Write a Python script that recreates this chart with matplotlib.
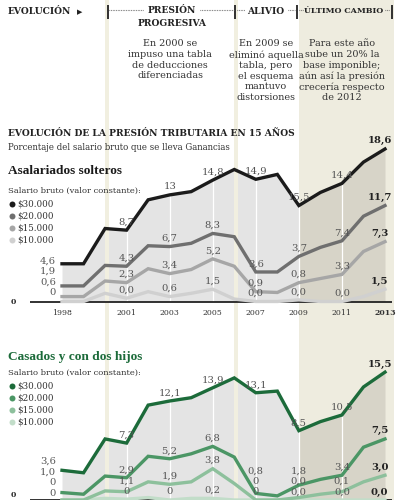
import matplotlib
matplotlib.use('Agg')
import matplotlib.pyplot as plt

# ---------------- data ----------------
years = list(range(1998, 2014))
tick_years = [1998, 2001, 2003, 2005, 2007, 2009, 2011, 2013]
label_years = [1998, 2001, 2003, 2005, 2007, 2009, 2011, 2013]
legend_names = ['$30.000', '$20.000', '$15.000', '$10.000']

solteros_30k = [4.6, 4.6, 8.9, 8.7, 12.4, 13.0, 13.4, 14.8, 16.1, 14.9, 15.5, 11.7, 13.3, 14.4, 17.0, 18.6]
solteros_20k = [1.9, 1.9, 4.4, 4.3, 6.8, 6.7, 7.1, 8.3, 7.9, 3.6, 3.6, 5.5, 6.6, 7.4, 10.4, 11.7]
solteros_15k = [0.6, 0.6, 2.5, 2.3, 4.0, 3.4, 3.9, 5.2, 4.3, 1.2, 1.1, 2.3, 2.8, 3.3, 6.1, 7.3]
solteros_10k = [0.0, 0.0, 1.0, 0.4, 1.2, 0.6, 1.0, 1.5, 0.3, 0.0, 0.0, 0.2, 0.0, 0.0, 0.6, 1.5]

casados_30k = [3.6, 3.3, 7.4, 6.9, 11.5, 12.0, 12.4, 13.6, 14.8, 13.0, 13.2, 8.4, 9.5, 10.3, 13.7, 15.5]
casados_20k = [0.9, 0.7, 2.9, 2.7, 5.3, 5.0, 5.6, 6.5, 5.2, 0.8, 0.5, 1.8, 2.5, 3.0, 6.4, 7.4]
casados_15k = [0.0, 0.0, 1.1, 1.0, 2.2, 1.9, 2.2, 3.8, 2.0, 0.0, 0.0, 0.3, 0.7, 1.0, 2.2, 3.0]
casados_10k = [0.0, 0.0, 0.2, 0.1, 0.3, 0.0, 0.2, 0.2, 0.0, 0.0, 0.0, 0.0, 0.0, 0.0, 0.0, 0.0]

lab_s30 = ['4,6', '8,7', '13', '14,8', '14,9', '15,5', '14,4', '18,6']
lab_s20 = ['1,9', '4,3', '6,7', '8,3', '3,6', '3,7', '7,4', '11,7']
lab_s15 = ['0,6', '2,3', '3,4', '5,2', '0,9', '0,8', '3,3', '7,3']
lab_s10 = ['0', '0,0', '0,6', '1,5', '0,0', '0,0', '0,0', '1,5']

lab_c30 = ['3,6', '7,3', '12,1', '13,9', '13,1', '8,5', '10,5', '15,5']
lab_c20 = ['1,0', '2,9', '5,2', '6,8', '0,8', '1,8', '3,4', '7,5']
lab_c15 = ['0', '1,1', '1,9', '3,8', '0', '0,0', '0,1', '3,0']
lab_c10 = ['0', '0', '0', '0,2', '0', '0,0', '0,0', '0,0']

periods_start = [2000, 2006, 2009]
period_texts = ['En 2000 se\nimpuso una tabla\nde deducciones\ndiferenciadas',
                'En 2009 se\neliminó aquella\ntabla, pero\nel esquema\nmantuvo\ndistorsiones',
                'Para este año\nsube un 20% la\nbase imponible;\naún así la presión\ncrecería respecto\nde 2012']

# ---------------- style ----------------
W, H = 400, 500
PPY = (385 - 62) / 15.0          # px per year
def px2yr(px):
    return 1998 + (px - 62) / PPY
X0, X1 = px2yr(0), px2yr(W)

HEAD = ['DejaVu Serif', 'DejaVu Sans']
SECT = ['Liberation Serif', 'DejaVu Serif']
SERIF = ['DejaVu Serif', 'DejaVu Sans']
BODY = ['DejaVu Serif']
gray_cols = ['#1b1b1b', '#6f6f6f', '#a6a6a6', '#d0d0d0']
green_cols = ['#1c6b3a', '#4b9665', '#8dc09c', '#c2ddc9']
FILL = '#e4e4e4'
FILL_B = '#d7d4c8'
BEIGE = '#eeecdf'
CREAM = '#f1efe0'

fig = plt.figure(figsize=(4, 5), dpi=100)
fig.patch.set_facecolor('white')

bg = fig.add_axes([0, 0, 1, 1], zorder=0)
bg.set_xlim(X0, X1); bg.set_ylim(0, 1); bg.axis('off')
bg.axvspan(periods_start[2], px2yr(394), color=BEIGE, lw=0)
for p in periods_start[:2]:
    bg.axvspan(p - 0.02, p + 0.17, color=CREAM, lw=0)

pix = fig.add_axes([0, 0, 1, 1], zorder=5)
pix.set_xlim(0, W); pix.set_ylim(H, 0); pix.axis('off')
pix.patch.set_alpha(0)

def ftext(x, y, s, **kw):
    pix.text(x, y, s, **kw)

# ---------------- header ----------------
ftext(8, 12, 'EVOLUCIÓN', family=HEAD, weight='bold', fontsize=6.6, va='center', color='#222')
ftext(77, 12, '▶', family=['DejaVu Sans'], fontsize=5, va='center', color='#222')
bar_x = [107.5, 235, 297, 392]
for bx in bar_x:
    pix.plot([bx, bx], [5, 19], color='#222', lw=1.3, solid_capstyle='butt')
dots = [(109, 143), (200, 234), (237, 245), (288, 295), (299, 303), (385, 390)]
for a, b in dots:
    pix.plot([a, b], [10, 10], color='#555', lw=0.8, ls=(0, (0.6, 0.9)))
ftext(172, 10.5, 'PRESIÓN', family=HEAD, weight='bold', fontsize=6.6, ha='center', va='center', color='#222')
ftext(172, 23.5, 'PROGRESIVA', family=HEAD, weight='bold', fontsize=6.6, ha='center', va='center', color='#222')
ftext(266, 11, 'ALIVIO', family=HEAD, weight='bold', fontsize=6.6, ha='center', va='center', color='#222')
ftext(344, 11, 'ÚLTIMO CAMBIO', family=HEAD, weight='bold', fontsize=5.8, ha='center', va='center', color='#222')
for cx, txt in zip([170, 266, 342], period_texts):
    ftext(cx, 39.5, txt, family=BODY, fontsize=6.9, ha='center', va='top', color='#333', linespacing=1.22)

# ---------------- titles ----------------
ftext(8, 134, 'EVOLUCIÓN DE LA PRESIÓN TRIBUTARIA EN 15 AÑOS', family=HEAD, weight='bold',
      fontsize=6.6, va='center', color='#222')
ftext(8, 148, 'Porcentaje del salario bruto que se lleva Ganancias', family=BODY,
      fontsize=6.2, va='center', color='#333')

def legend(y_title, title_y, title, title_col, cols):
    ftext(8, title_y, title, family=SECT, weight='bold', fontsize=9.6, va='center', color=title_col)
    ftext(8, y_title, 'Salario bruto (valor constante):', family=BODY, fontsize=6.0, va='center', color='#333')
    for i, (c, n) in enumerate(zip(cols, legend_names)):
        yy = y_title + 12.5 + i * 12
        pix.plot([11.5], [yy], 'o', color=c, ms=4.3, mec='none')
        ftext(17, yy, n, family=BODY, fontsize=6.3, va='center', color='#333')

legend(191, 171, 'Asalariados solteros', '#1b1b1b', gray_cols)
legend(373, 357, 'Casados y con dos hijos', '#1c6b3a', green_cols)

# ---------------- charts ----------------
def chart(rect_px, base_px, scale, series, labels, cols, first_floor, show_ticks, zero_dy):
    top_px, bot_px = rect_px
    ax = fig.add_axes([0, (H - bot_px) / H, 1, (bot_px - top_px) / H], zorder=2)
    ax.set_xlim(X0, X1)
    ax.set_ylim(-(bot_px - base_px) / scale, (base_px - top_px) / scale)
    ax.patch.set_alpha(0)
    for s in ax.spines.values():
        s.set_visible(False)
    ax.set_yticks([])
    main = series[0]
    x = years
    ax.fill_between(x, 0, main, where=[y <= 2009 for y in x], color=FILL, lw=0, zorder=1)
    ax.fill_between(x, 0, main, where=[y >= 2009 for y in x], color=FILL_B, lw=0, zorder=1)
    for p in periods_start[:2]:
        ax.axvspan(p - 0.02, p + 0.17, color=CREAM, lw=0, zorder=1.5)
    for ty in tick_years[1:-1]:
        ax.vlines(ty, 0, main[years.index(ty)], color='white', lw=0.9, zorder=1.6)
    ax.hlines(0, px2yr(30), px2yr(392), color='#222', lw=1.3, zorder=2)
    ax.text(px2yr(13), zero_dy / scale, '0', family=SERIF, weight='bold', fontsize=5.5,
            ha='center', va='center', color='#222')
    for ser, c in zip(series[::-1], cols[::-1]):
        ax.plot(x, ser, color=c, lw=2.4, solid_joinstyle='miter', zorder=3, clip_on=False)
    # data labels, stacked bottom-up
    sep = 10.5 / scale
    off = 8.0 / scale
    for j, ly in enumerate(label_years):
        i = years.index(ly)
        prev = None
        for k in range(len(series) - 1, -1, -1):
            v = series[k][i]
            if j == 0:
                yl = max(v, first_floor / scale) if prev is None else max(v, prev + sep)
                ax.text(ly - 0.28, yl, labels[k][j], family=BODY, fontsize=7.2, ha='right',
                        va='center', color='#555', zorder=4)
            else:
                yl = v + off if prev is None else max(v + off, prev + sep)
                bold = (ly == 2013)
                ax.text(ly - (0.25 if bold else 0), yl, labels[k][j], family=BODY, fontsize=7.2,
                        ha='center', va='center', color='#222' if bold else '#555',
                        weight='bold' if bold else 'normal', zorder=4)
            prev = yl
    if show_ticks:
        ax.set_xticks(tick_years)
        ax.set_xticklabels([str(t) for t in tick_years], family=SERIF, fontsize=5.6, color='#333')
        ax.tick_params(axis='x', length=0, pad=2.5)
        ax.get_xticklabels()[-1].set_weight('bold')
    else:
        ax.set_xticks([])
    return ax

chart((130, 306), 301.5, 8.2, [solteros_30k, solteros_20k, solteros_15k, solteros_10k],
      [lab_s30, lab_s20, lab_s15, lab_s10], gray_cols, 9, True, 0)
chart((330, 510), 500, 8.25, [casados_30k, casados_20k, casados_15k, casados_10k],
      [lab_c30, lab_c20, lab_c15, lab_c10], green_cols, 7, False, 5)

fig.savefig('out.png', dpi=100, facecolor='white')
